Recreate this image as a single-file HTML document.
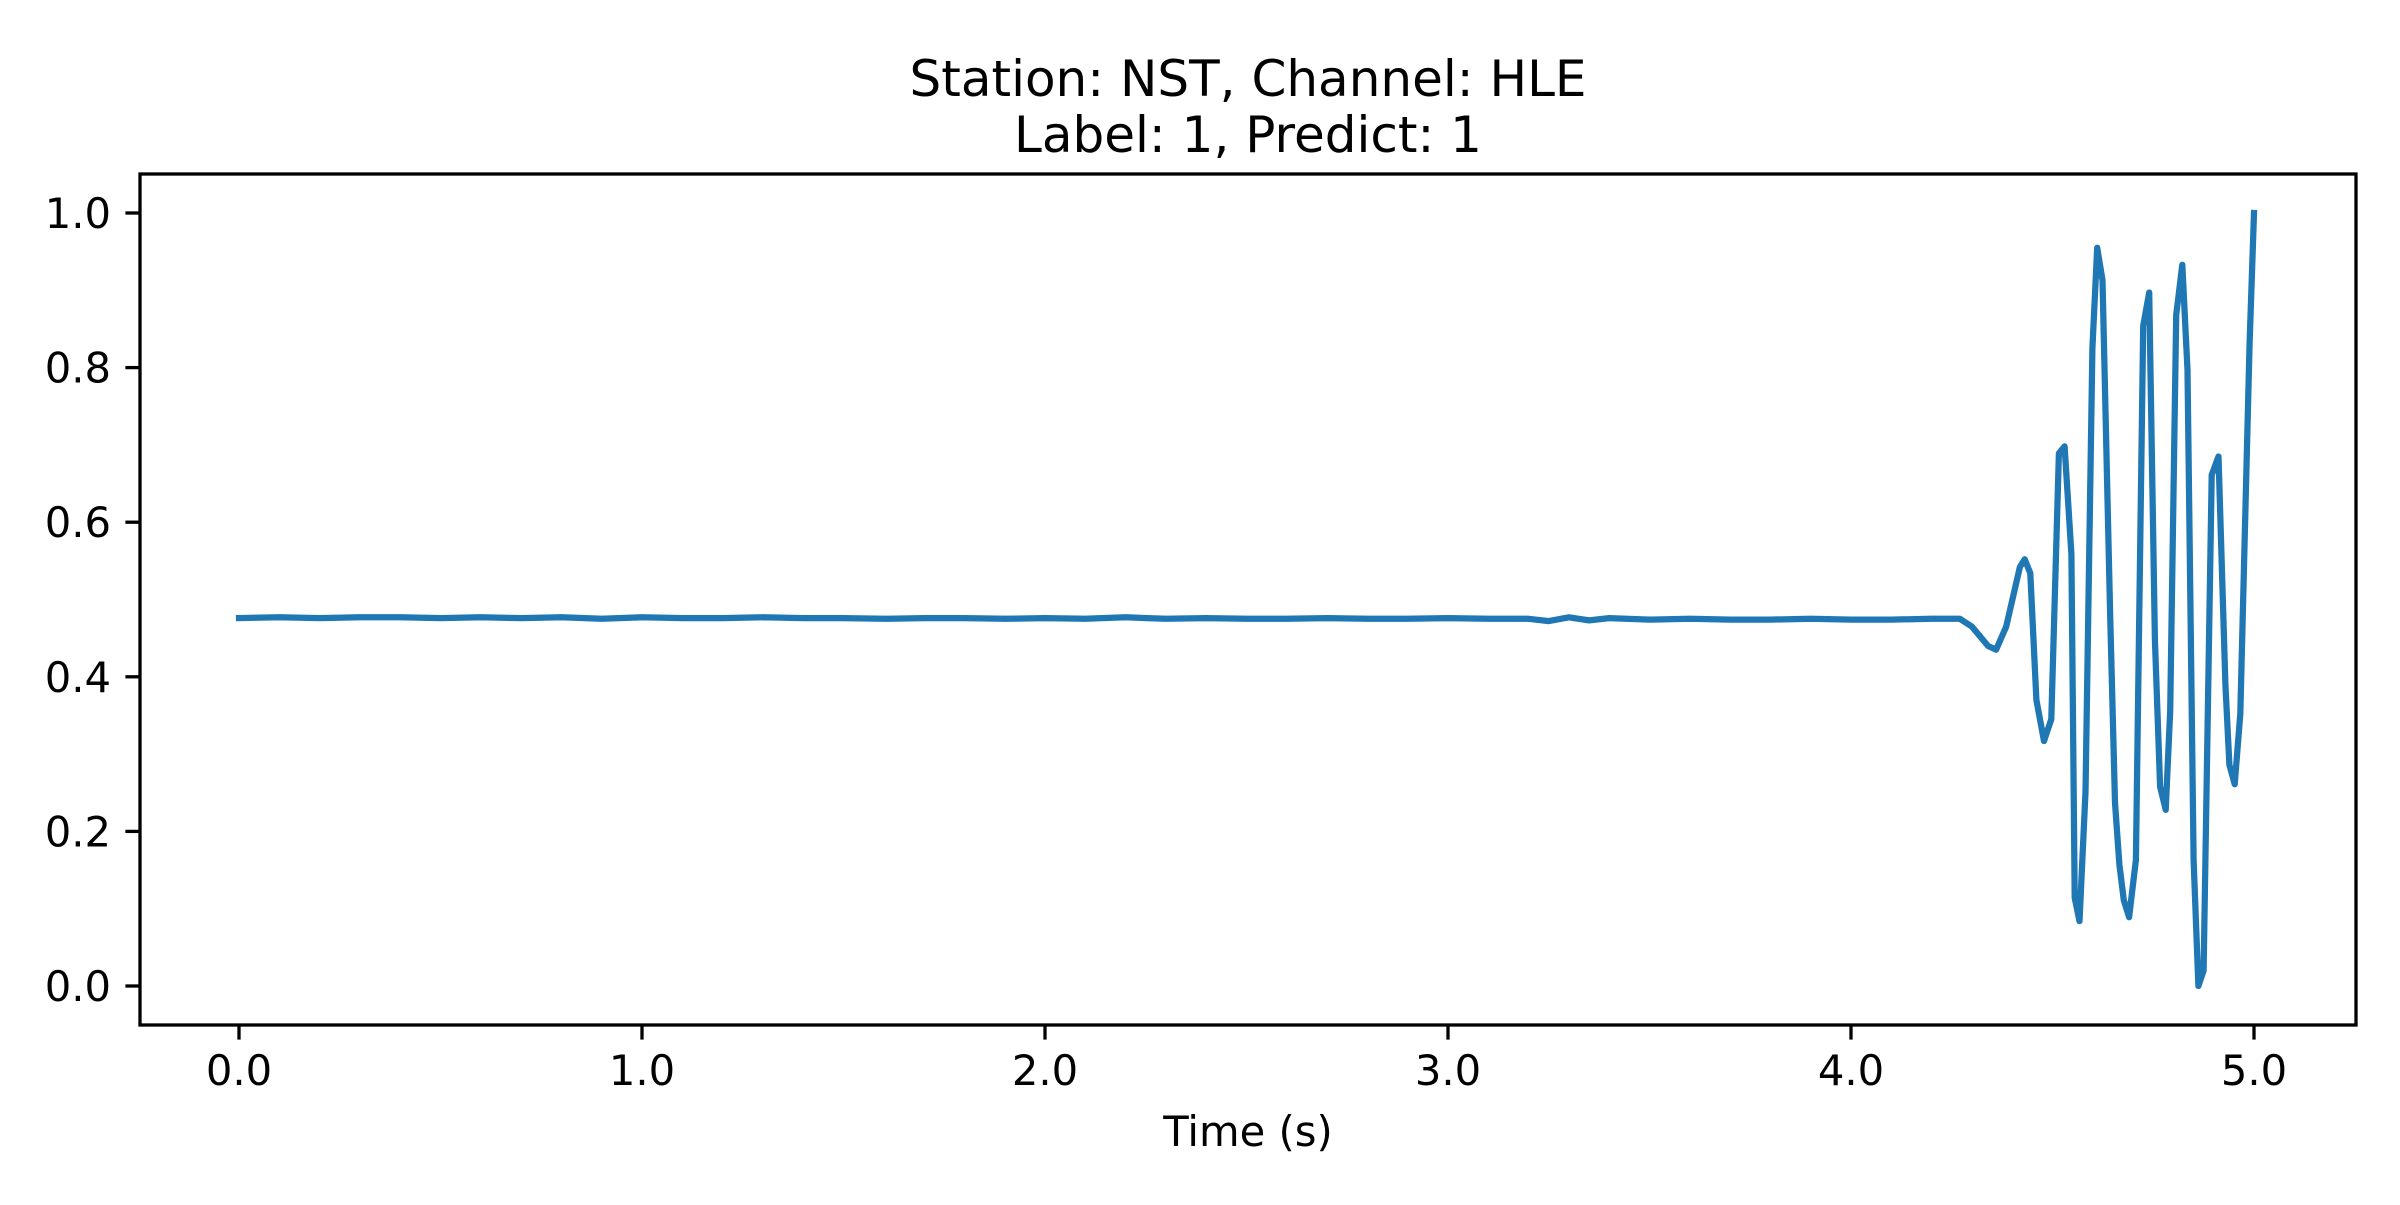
<!DOCTYPE html>
<html><head><meta charset="utf-8"><style>
body{margin:0;background:#fff}
svg text{font-family:"DejaVu Sans","Liberation Sans",sans-serif;fill:#000}
</style></head><body>
<svg id="chart" width="2400" height="1200" viewBox="0 0 2400 1200">
<rect width="2400" height="1200" fill="#fff"/>
<text x="1248" y="96" font-size="50" text-anchor="middle">Station: NST, Channel: HLE</text>
<text x="1248" y="152" font-size="50" text-anchor="middle">Label: 1, Predict: 1</text>
<g id="plot"></g>
<text x="1248" y="1146" font-size="41.7" text-anchor="middle">Time (s)</text>
</svg>
<script>
const times = [0,0.1,0.2,0.3,0.4,0.5,0.6,0.7,0.8,0.9,1.0,1.1,1.2,1.3,1.4,1.5,1.6,1.7,1.8,1.9,2.0,2.1,2.2,2.3,2.4,2.5,2.6,2.7,2.8,2.9,3.0,3.1,3.2,3.25,3.3,3.35,3.4,3.5,3.6,3.7,3.8,3.9,4.0,4.1,4.2,4.27,
4.30,4.34,4.36,4.385,4.419,4.431,4.445,4.46,4.479,4.497,4.516,4.530,4.547,4.555,4.567,4.582,4.599,4.611,4.624,4.643,4.655,4.666,4.677,4.690,4.707,4.725,4.740,4.754,4.767,4.781,4.792,4.807,4.822,4.835,4.850,4.862,4.875,4.895,4.912,4.929,4.939,4.952,4.966,4.989,5.0];
const values = [0.476,0.477,0.476,0.477,0.477,0.476,0.477,0.476,0.477,0.475,0.477,0.476,0.476,0.477,0.476,0.476,0.475,0.476,0.476,0.475,0.476,0.475,0.477,0.475,0.476,0.475,0.475,0.476,0.475,0.475,0.476,0.475,0.475,0.472,0.477,0.473,0.476,0.474,0.475,0.474,0.474,0.475,0.474,0.474,0.475,0.475,
0.465,0.44,0.435,0.465,0.542,0.552,0.534,0.37,0.317,0.345,0.689,0.698,0.559,0.114,0.084,0.251,0.825,0.955,0.913,0.483,0.237,0.157,0.111,0.089,0.163,0.854,0.897,0.448,0.258,0.228,0.356,0.868,0.933,0.797,0.163,0.0,0.02,0.661,0.685,0.39,0.286,0.261,0.352,0.832,1.0];
const xTicks = [0,1,2,3,4,5];
const xTickLabels = ["0.0","1.0","2.0","3.0","4.0","5.0"];
const yTicks = [0,0.2,0.4,0.6,0.8,1.0];
const yTickLabels = ["0.0","0.2","0.4","0.6","0.8","1.0"];

const L=140,R=2356,T=174,B=1025;
const sx = t => 239 + t*(2254-239)/5;
const sy = v => 986 - v*(986-213);
const NS='http://www.w3.org/2000/svg';
const g=document.getElementById('plot');
function mk(tag,attrs){const e=document.createElementNS(NS,tag);for(const k in attrs)e.setAttribute(k,attrs[k]);g.appendChild(e);return e;}

let d='';
for(let i=0;i<times.length;i++){d+=(i?'L':'M')+sx(times[i]).toFixed(1)+' '+sy(values[i]).toFixed(1);}
const line=mk('path',{d:d,fill:'none',stroke:'#1f77b4','stroke-width':6.25,'stroke-linejoin':'round','stroke-linecap':'square'});



const frame=mk('rect',{x:L,y:T,width:R-L,height:B-T,fill:'none',stroke:'#000','stroke-width':3.3});



xTicks.forEach((t,i)=>{
  const tk=mk('line',{x1:sx(t),x2:sx(t),y1:B,y2:B+14.6,stroke:'#000','stroke-width':3.3});
  
  
  const tx=mk('text',{x:sx(t),y:B+60,'font-size':41.7,'text-anchor':'middle'});
  tx.textContent=xTickLabels[i];
  
  
});
yTicks.forEach((v,i)=>{
  const tk=mk('line',{x1:L-14.6,x2:L,y1:sy(v),y2:sy(v),stroke:'#000','stroke-width':3.3});
  
  
  const tx=mk('text',{x:L-29,y:sy(v)+15,'font-size':41.7,'text-anchor':'end'});
  tx.textContent=yTickLabels[i];
  
  
});
</script>
</body></html>
